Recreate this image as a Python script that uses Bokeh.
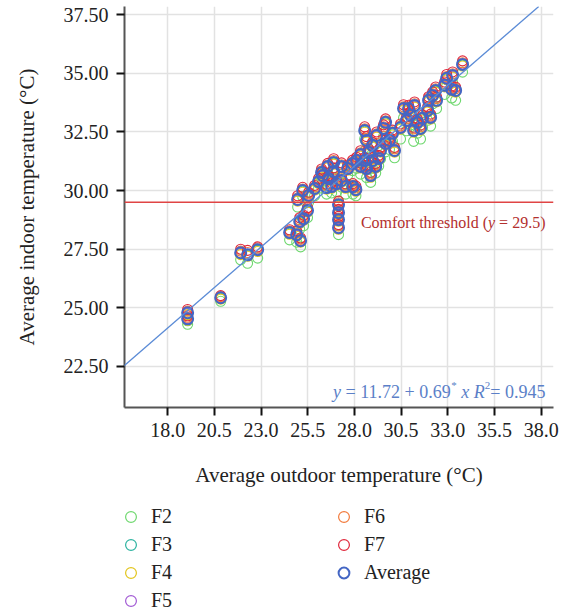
from bokeh.plotting import figure
from bokeh.layouts import column
from bokeh.models import (Legend, LegendItem, Span, Slope, Label, FixedTicker,
                          PrintfTickFormatter, Range1d)
from bokeh.embed import file_html
from bokeh.resources import INLINE

# ---------------- data ----------------
outdoor = [19.07, 19.07, 20.84, 21.91, 22.28, 22.82,
           24.53, 24.91, 25.12, 25.07, 25.28, 25.49, 24.96, 25.23, 25.55, 25.87,
           26.08, 26.30, 26.62, 26.89, 27.05, 26.51, 26.78, 27.31, 27.53, 27.15,
           27.15, 27.15, 27.15, 27.92, 28.08, 27.64, 27.31, 26.89, 26.57, 26.24,
           28.12, 28.33, 28.55, 28.76, 28.33, 27.90, 28.65, 28.97, 29.14, 28.65,
           28.55, 29.19, 28.97, 29.40, 29.67, 29.56, 29.67, 29.88, 30.04, 29.30, 28.87, 30.15,
           30.47, 30.63, 30.90, 30.79, 31.01, 31.22, 31.38, 31.17, 31.65, 31.92,
           32.08, 31.54, 31.97, 32.19, 32.35, 32.40,
           32.94, 33.26, 33.21, 33.42, 33.79, 32.83]

f2 = [24.45, 24.30, 25.28, 27.05, 26.90, 27.12,
      27.90, 27.80, 27.60, 28.35, 28.50, 28.85, 29.30, 29.75, 29.50, 29.78,
      30.10, 30.40, 30.20, 30.55, 29.95, 29.85, 29.90, 30.15, 29.85, 29.10,
      28.80, 28.50, 28.12, 29.85, 29.78, 30.65, 30.72, 30.92, 30.75, 30.50,
      30.95, 31.20, 30.95, 31.30, 30.70, 30.85, 30.55, 30.95, 30.75, 31.80,
      32.20, 32.00, 31.60, 31.35, 31.65, 32.30, 32.55, 31.75, 32.10, 31.05, 30.35, 31.40,
      32.20, 33.10, 33.05, 32.55, 32.80, 33.20, 32.45, 32.10, 32.70, 33.00,
      32.75, 32.20, 33.50, 33.70, 33.95, 33.50,
      34.45, 34.60, 33.95, 33.85, 35.05, 34.10]

f3 = [24.76, 24.50, 25.41, 27.32, 27.23, 27.45,
      28.18, 28.09, 27.84, 28.65, 28.77, 29.12, 29.59, 29.97, 29.76, 30.06,
      30.35, 30.61, 30.48, 30.78, 30.27, 30.10, 30.14, 30.40, 30.14, 29.37,
      29.03, 28.73, 28.39, 30.14, 30.01, 30.91, 31.00, 31.17, 31.00, 30.74,
      31.25, 31.51, 31.25, 31.59, 31.00, 31.12, 30.91, 31.25, 31.00, 32.11,
      32.53, 32.32, 31.89, 31.68, 31.98, 32.62, 32.88, 32.11, 32.41, 31.34, 30.61, 31.68,
      32.66, 33.47, 33.47, 32.96, 33.18, 33.60, 32.88, 32.53, 33.05, 33.39,
      33.09, 32.62, 33.82, 34.03, 34.24, 33.82,
      34.76, 34.88, 34.29, 34.24, 35.35, 34.46]

f4 = [24.71, 24.47, 25.37, 27.27, 27.20, 27.40,
      28.14, 28.05, 27.80, 28.60, 28.73, 29.08, 29.55, 29.93, 29.72, 30.02,
      30.30, 30.57, 30.44, 30.73, 30.23, 30.06, 30.10, 30.36, 30.10, 29.33,
      28.98, 28.69, 28.35, 30.10, 29.97, 30.87, 30.96, 31.13, 30.96, 30.70,
      31.21, 31.47, 31.20, 31.55, 30.96, 31.08, 30.87, 31.21, 30.96, 32.07,
      32.49, 32.28, 31.85, 31.64, 31.94, 32.58, 32.84, 32.07, 32.37, 31.30, 30.57, 31.64,
      32.62, 33.43, 33.42, 32.92, 33.14, 33.56, 32.84, 32.49, 33.01, 33.35,
      33.05, 32.58, 33.78, 33.99, 34.20, 33.78,
      34.72, 34.84, 34.25, 34.20, 35.31, 34.42]

f5 = [24.77, 24.55, 25.45, 27.33, 27.28, 27.50,
      28.23, 28.10, 27.88, 28.70, 28.78, 29.17, 29.60, 30.02, 29.81, 30.07,
      30.40, 30.62, 30.53, 30.79, 30.32, 30.11, 30.19, 30.41, 30.19, 29.42,
      29.04, 28.78, 28.40, 30.19, 30.02, 30.96, 31.01, 31.22, 31.01, 30.79,
      31.30, 31.52, 31.30, 31.60, 31.05, 31.13, 30.96, 31.26, 31.05, 32.12,
      32.58, 32.33, 31.94, 31.69, 32.03, 32.63, 32.93, 32.12, 32.46, 31.35, 30.66, 31.69,
      32.71, 33.48, 33.52, 32.97, 33.23, 33.61, 32.93, 32.54, 33.10, 33.40,
      33.14, 32.63, 33.87, 34.04, 34.29, 33.83,
      34.81, 34.89, 34.34, 34.25, 35.40, 34.47]

f6 = [24.86, 24.60, 25.48, 27.42, 27.36, 27.55,
      28.27, 28.19, 27.93, 28.75, 28.87, 29.21, 29.69, 30.07, 29.86, 30.15,
      30.45, 30.71, 30.58, 30.88, 30.36, 30.20, 30.25, 30.50, 30.23, 29.48,
      29.13, 28.83, 28.49, 30.24, 30.11, 31.01, 31.10, 31.28, 31.09, 30.84,
      31.35, 31.61, 31.35, 31.70, 31.10, 31.22, 31.01, 31.35, 31.10, 32.22,
      32.63, 32.42, 31.99, 31.78, 32.08, 32.72, 32.98, 32.21, 32.51, 31.44, 30.71, 31.78,
      32.76, 33.57, 33.57, 33.06, 33.28, 33.70, 32.98, 32.63, 33.15, 33.49,
      33.19, 32.72, 33.92, 34.13, 34.34, 33.92,
      34.86, 34.98, 34.39, 34.34, 35.45, 34.56]

f7 = [24.93, 24.66, 25.52, 27.50, 27.45, 27.60,
      28.33, 28.27, 27.98, 28.84, 28.95, 29.27, 29.78, 30.14, 29.93, 30.22,
      30.52, 30.80, 30.64, 30.97, 30.42, 30.27, 30.33, 30.58, 30.29, 29.55,
      29.20, 28.90, 28.55, 30.30, 30.19, 31.09, 31.18, 31.36, 31.16, 30.92,
      31.42, 31.70, 31.41, 31.78, 31.17, 31.30, 31.08, 31.42, 31.16, 32.30,
      32.72, 32.50, 32.06, 31.85, 32.15, 32.80, 33.06, 32.27, 32.58, 31.50, 30.78, 31.84,
      32.84, 33.66, 33.64, 33.13, 33.36, 33.78, 33.05, 32.70, 33.22, 33.57,
      33.26, 32.79, 34.00, 34.21, 34.42, 33.99,
      34.95, 35.06, 34.46, 34.41, 35.53, 34.63]

average = [24.79, 24.53, 25.43, 27.35, 27.26, 27.48,
           28.21, 28.12, 27.86, 28.68, 28.80, 29.15, 29.62, 30.00, 29.79, 30.09,
           30.38, 30.64, 30.51, 30.81, 30.30, 30.13, 30.17, 30.43, 30.17, 29.40,
           29.06, 28.76, 28.42, 30.17, 30.04, 30.94, 31.03, 31.20, 31.03, 30.77,
           31.28, 31.54, 31.28, 31.62, 31.03, 31.15, 30.94, 31.28, 31.03, 32.14,
           32.56, 32.35, 31.92, 31.71, 32.01, 32.65, 32.91, 32.14, 32.44, 31.37, 30.64, 31.71,
           32.69, 33.50, 33.50, 32.99, 33.21, 33.63, 32.91, 32.56, 33.08, 33.42,
           33.12, 32.65, 33.85, 34.06, 34.27, 33.85,
           34.79, 34.91, 34.32, 34.27, 35.38, 34.49]

series_names = ["F2", "F3", "F4", "F5", "F6", "F7", "Average"]
series_values = [f2, f3, f4, f5, f6, f7, average]
series_colors = ["#6fd86f", "#2db3a0", "#e2c51c", "#a25ad4", "#f27a3c", "#e0283c", "#4466c4"]

INTERCEPT = 11.72
SLOPE = 0.69
R2 = 0.945
THRESHOLD = 29.5

x_ticks = [18.0, 20.5, 23.0, 25.5, 28.0, 30.5, 33.0, 35.5, 38.0]
y_ticks = [22.5, 25.0, 27.5, 30.0, 32.5, 35.0, 37.5]

FONT = "Liberation Serif"
MAIN_H = 500
LEG_H = 116

# ---------------- main figure ----------------
p = figure(width=569, height=MAIN_H,
           x_range=Range1d(15.69, 38.66), y_range=Range1d(20.75, 37.85),
           output_backend="svg", toolbar_location=None,
           min_border_left=124, min_border_right=16, min_border_top=6,
           min_border_bottom=MAIN_H - 407)
p.outline_line_color = None
p.background_fill_color = "white"

for ax, ticks, fmt in ((p.xaxis[0], x_ticks, "%.1f"), (p.yaxis[0], y_ticks, "%.2f")):
    ax.ticker = FixedTicker(ticks=ticks)
    ax.formatter = PrintfTickFormatter(format=fmt)
    ax.axis_line_color = "#555555"
    ax.axis_line_width = 2
    ax.major_tick_line_color = "#111111"
    ax.major_tick_line_width = 2
    ax.major_tick_out = 8
    ax.major_tick_in = 0
    ax.minor_tick_line_color = None
    ax.major_label_text_font = FONT
    ax.major_label_text_font_size = "20px"
    ax.major_label_text_color = "#222222"
    ax.axis_label_text_font = FONT
    ax.axis_label_text_font_size = "21px"
    ax.axis_label_text_font_style = "normal"
    ax.axis_label_text_color = "#222222"

p.xaxis.axis_label = "Average outdoor temperature (°C)"
p.yaxis.axis_label = "Average indoor temperature (°C)"
p.xaxis.major_label_standoff = 7
p.xaxis.axis_label_standoff = 23
p.yaxis.major_label_standoff = 8
p.yaxis.axis_label_standoff = 22

p.xgrid.ticker = FixedTicker(ticks=x_ticks)
p.ygrid.ticker = FixedTicker(ticks=y_ticks)
p.grid.grid_line_color = "#e2e2e2"
p.grid.grid_line_width = 1.5

# comfort threshold and regression line
p.add_layout(Span(location=THRESHOLD, dimension="width", line_color="#e04444", line_width=1.5))
p.add_layout(Slope(gradient=SLOPE, y_intercept=INTERCEPT, line_color="#5b8bd6", line_width=1.3))

# scatter series
for name, ys, color in zip(series_names, series_values, series_colors):
    is_avg = name == "Average"
    p.scatter(outdoor, ys, marker="circle", size=11 if is_avg else 10,
              fill_color=None, line_color=color,
              line_width=2.0 if is_avg else 1.1)

# mixed-style annotation helper (Times metrics)
W_REG = {" ": 250, "=": 564, "+": 564, ".": 250, "(": 333, ")": 333, "*": 500,
         "C": 667, "o": 500, "m": 778, "f": 333, "r": 333, "t": 278, "h": 500,
         "e": 444, "s": 389, "l": 278, "d": 500}
for dch in "0123456789":
    W_REG[dch] = 500
W_IT = {"y": 444, "x": 444, "R": 611}


def text_width(s, italic, size):
    table = W_IT if italic else W_REG
    return sum(table.get(c, 500) for c in s) / 1000.0 * size


def add_pieces(pieces, x, y, y_off, color):
    total = sum(text_width(t, it, sz) for t, it, sz, dy in pieces)
    off = -total
    for t, it, sz, dy in pieces:
        if t.strip():
            p.add_layout(Label(x=x, y=y, x_offset=off, y_offset=y_off + dy, text=t,
                               text_font=FONT, text_font_size=f"{sz}px",
                               text_font_style="italic" if it else "normal",
                               text_color=color, text_align="left",
                               text_baseline="alphabetic"))
        off += text_width(t, it, sz)


add_pieces([("Comfort threshold (", False, 16, 0), ("y", True, 16, 0), (" ", False, 16, 0),
            ("= " + f"{THRESHOLD}" + ")", False, 16, 0)],
           38.23, THRESHOLD, -20, "#b3302e")

add_pieces([("y", True, 18, 0), (" ", False, 18, 0),
            (f"= {INTERCEPT} + {SLOPE}", False, 18, 0), ("*", False, 11, 7),
            (" ", False, 18, 0), ("x", True, 18, 0), (" ", False, 18, 0),
            ("R", True, 18, 0), ("2", False, 11, 7), (f"= {R2}", False, 18, 0)],
           38.23, 21.39, 0, "#5b7fc8")

# ---------------- legend strip (two columns) ----------------
lg = figure(width=569, height=LEG_H, x_range=Range1d(0, 1), y_range=Range1d(0, 1),
            x_axis_type=None, y_axis_type=None, output_backend="svg",
            toolbar_location=None, min_border=0)
lg.outline_line_color = None
lg.grid.visible = False

leg_renderers = []
for name, ys, color in zip(series_names, series_values, series_colors):
    is_avg = name == "Average"
    # same series, drawn outside the strip's visible range: only the legend shows
    leg_renderers.append(lg.scatter(outdoor, ys, marker="circle", size=11 if is_avg else 10,
                                    fill_color=None, line_color=color,
                                    line_width=2.0 if is_avg else 1.2))


def make_legend(idx, loc):
    leg = Legend(items=[LegendItem(label=series_names[i], renderers=[leg_renderers[i]]) for i in idx],
                 location=loc, orientation="vertical",
                 glyph_width=27, glyph_height=27, label_height=27, spacing=1,
                 label_standoff=7, padding=0, margin=0,
                 border_line_color=None, background_fill_alpha=0,
                 label_text_font=FONT, label_text_font_size="20px",
                 label_text_color="#222222")
    lg.add_layout(leg)


make_legend([0, 1, 2, 3], (-7, 2))
make_legend([4, 5, 6], (206, 30))

layout = column(p, lg, spacing=0)
open("out.html", "w").write(file_html(layout, INLINE))
